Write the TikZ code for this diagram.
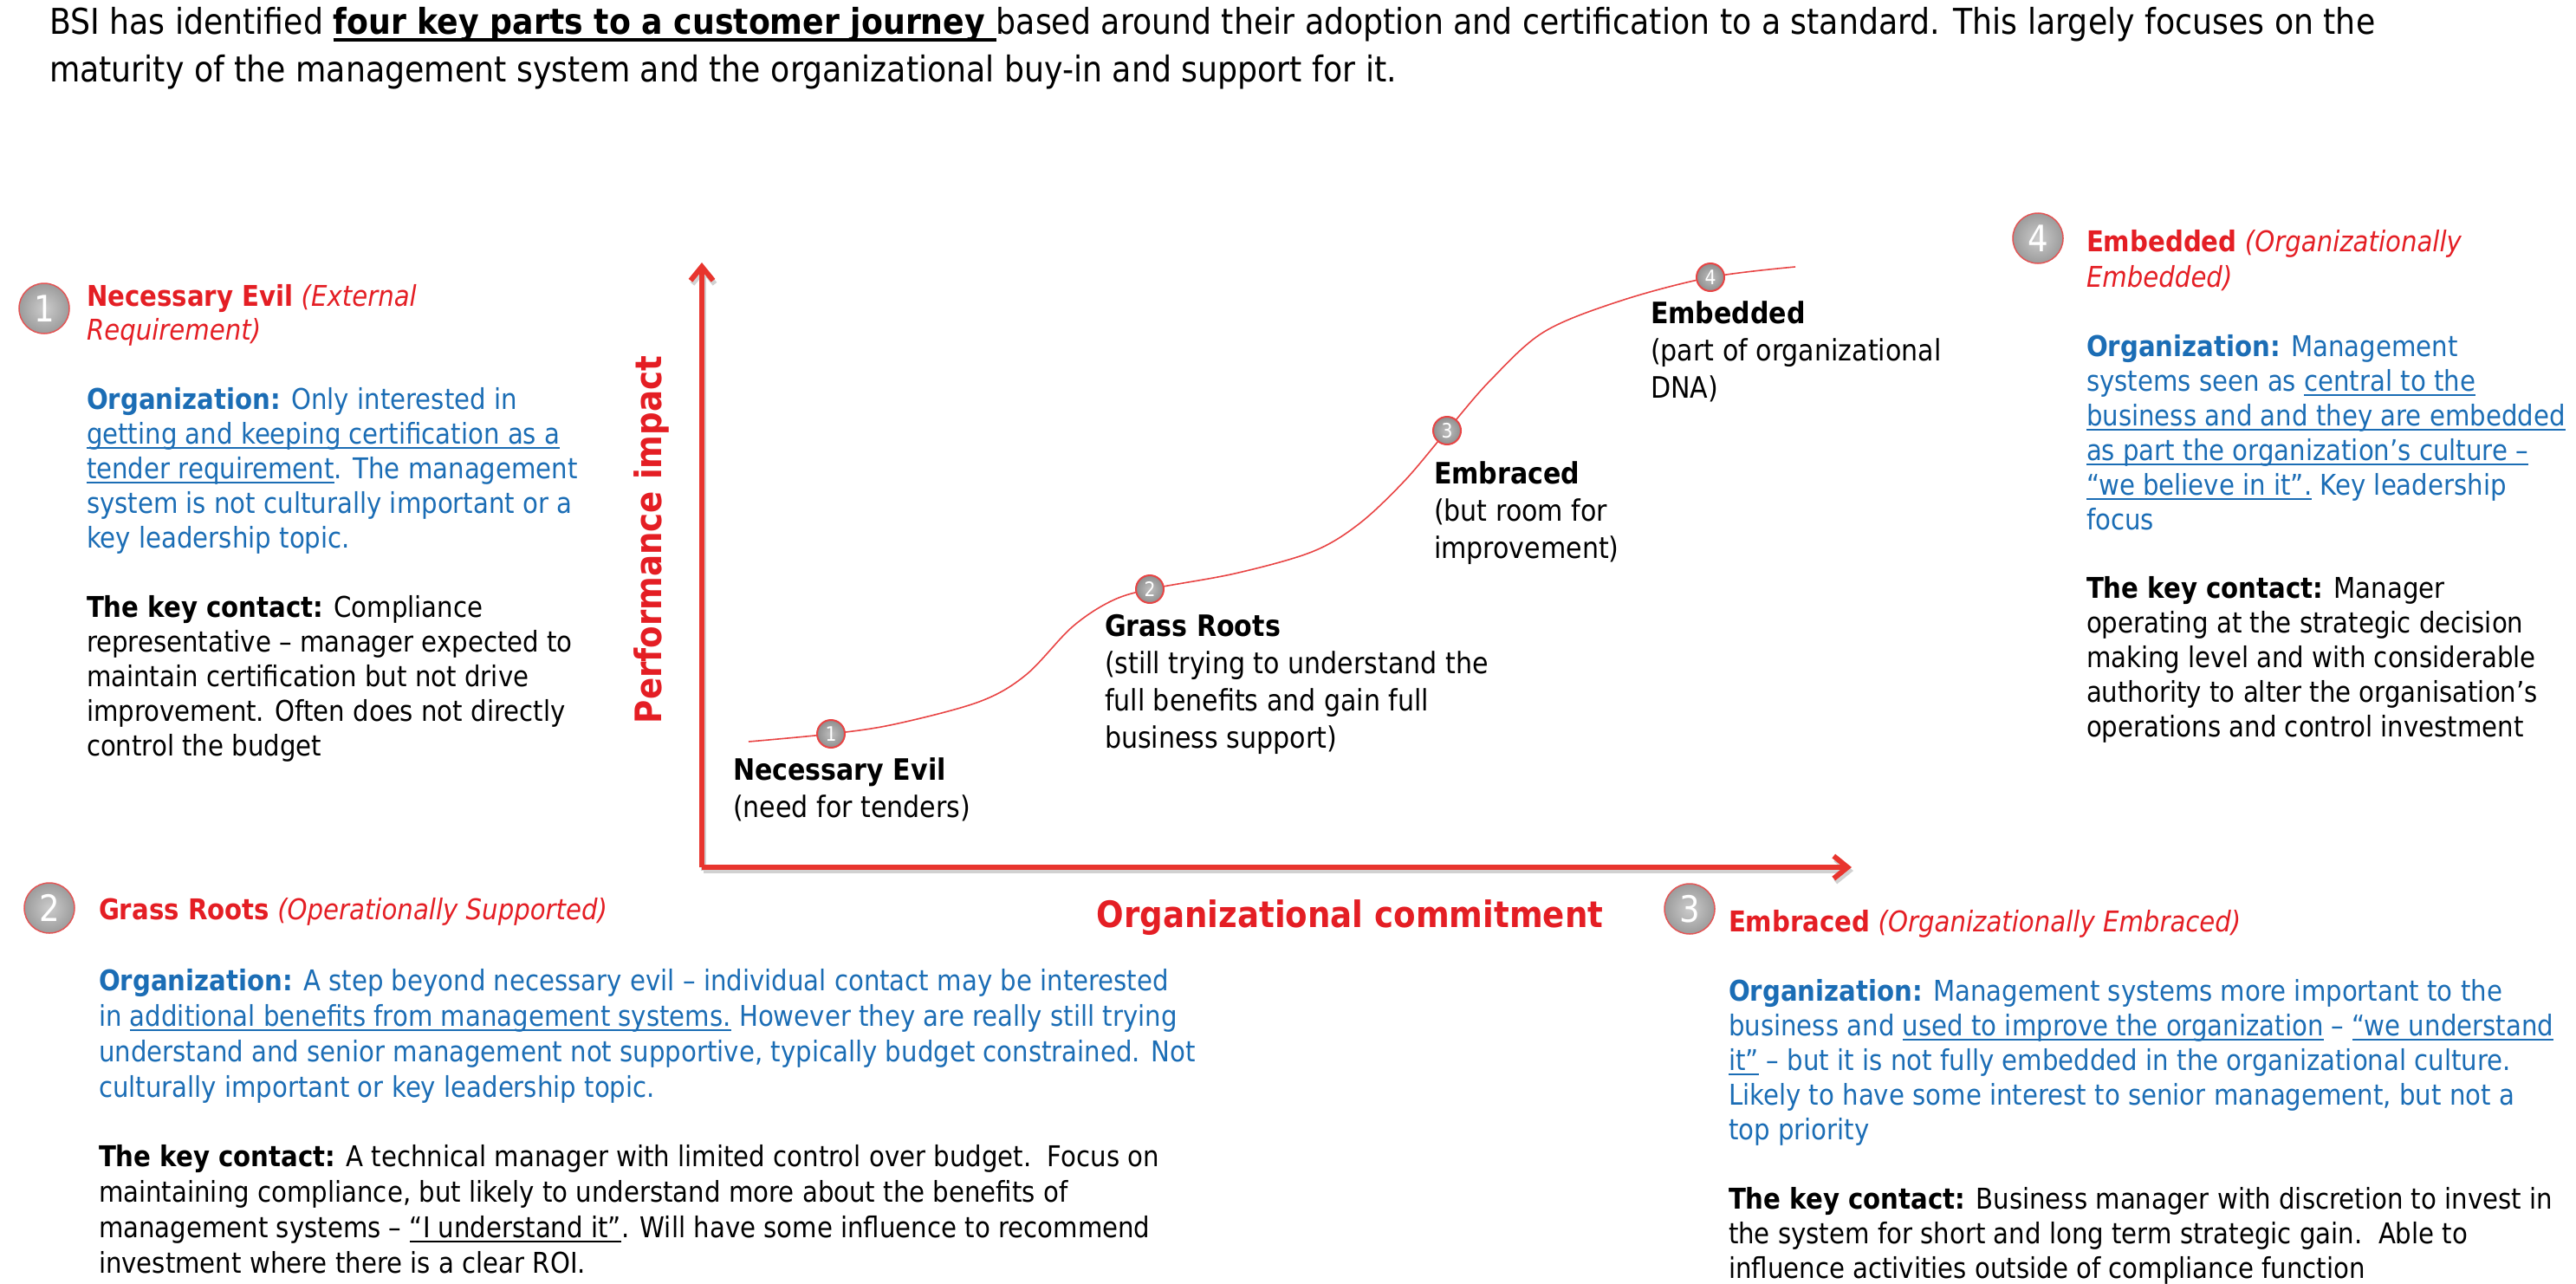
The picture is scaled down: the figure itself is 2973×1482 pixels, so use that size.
\documentclass[tikz,border=0pt]{standalone}
\usepackage{fontspec}
\setmainfont{DejaVu Sans}[FakeStretch=0.885, BoldFont={DejaVu Sans Bold}, ItalicFont={DejaVu Sans Oblique}, BoldItalicFont={DejaVu Sans Bold Oblique}]
\usetikzlibrary{arrows.meta,shadings}
\definecolor{tred}{HTML}{E41E24}
\definecolor{tblue}{HTML}{1B6DB5}
\definecolor{axred}{HTML}{E8352E}
\definecolor{curvered}{HTML}{E84444}
\definecolor{ballred}{HTML}{E25555}
\newcommand\ulx[1]{\setbox0=\hbox{#1}\rlap{\rule[-6pt]{\wd0}{2pt}}\box0\relax}
\newcommand\ulh[1]{\setbox0=\hbox{#1}\rlap{\rule[-8pt]{\wd0}{3.5pt}}\box0\relax}
\newcommand\vlines[2]{\vtop{\baselineskip=#1pt\lineskiplimit=-1000pt\lineskip=0pt\relax #2}}
\begin{document}
\begin{tikzpicture}[x=1pt,y=-1pt,
  txt/.style={anchor=base west, inner sep=0pt, outer sep=0pt},
  body/.style={txt, font=\fontsize{33}{40}\selectfont},
  org/.style={body, text=tblue},
  key/.style={body, text=black},
  ttl/.style={body, text=tred},
  lbl/.style={txt, text=black, font=\fontsize{34}{43}\selectfont},
  hdr/.style={txt, text=black, font=\fontsize{41}{55}\selectfont},
  axlbl/.style={anchor=base, inner sep=0pt, text=tred, font=\fontsize{42}{50}\selectfont\bfseries},
  bigball/.style={circle, minimum size=58pt, inner sep=0pt, draw=ballred, line width=1.5pt, inner color=gray!40, outer color=gray!78, text=white, font=\fontsize{42}{42}\selectfont},
  smallball/.style={circle, minimum size=32pt, inner sep=0pt, draw=curvered, line width=2pt, inner color=gray!50, outer color=gray!88, text=white, font=\fontsize{23}{23}\selectfont},
  axis/.style={draw=axred, line width=6pt, -{Straight Barb[length=16pt,width=26pt]},
    preaction={draw=black!18, line width=6pt, transform canvas={shift={(2pt,-4pt)}}}},
  curve/.style={draw=curvered, line width=1.6pt}
]
\useasboundingbox (0,0) rectangle (2973,1482);

% header
\node[hdr] (head) at (57,40) {\vlines{55}{%
\hbox{BSI has identified \ulh{\textbf{four key parts to a customer journey }}based around their adoption and certification to a standard. This largely focuses on the}%
\hbox{maturity of the management system and the organizational buy-in and support for it.}}};

% block 1
\node[bigball] (c1) at (51,356) {1};
\node[ttl] (t1) at (100,353) {\vlines{39}{%
\hbox{\textbf{Necessary Evil} \textit{(External}}%
\hbox{\textit{Requirement)}}}};
\node[org] (o1) at (100,472) {\vlines{40}{%
\hbox{\textbf{Organization:} Only interested in}%
\hbox{\ulx{getting and keeping certification as a}}%
\hbox{\ulx{tender requirement}. The management}%
\hbox{system is not culturally important or a}%
\hbox{key leadership topic.}}};
\node[key] (k1) at (100,712) {\vlines{40}{%
\hbox{\textbf{The key contact:} Compliance}%
\hbox{representative – manager expected to}%
\hbox{maintain certification but not drive}%
\hbox{improvement. Often does not directly}%
\hbox{control the budget}}};

% block 4
\node[bigball] (c4) at (2352,275) {4};
\node[ttl] (t4) at (2408,290) {\vlines{41}{%
\hbox{\textbf{Embedded} \textit{(Organizationally}}%
\hbox{\textit{Embedded)}}}};
\node[org] (o4) at (2408,411) {\vlines{40}{%
\hbox{\textbf{Organization:} Management}%
\hbox{systems seen as \ulx{central to the}}%
\hbox{\ulx{business and and they are embedded}}%
\hbox{\ulx{as part the organization’s culture –}}%
\hbox{\ulx{“we believe in it”.} Key leadership}%
\hbox{focus}}};
\node[key] (k4) at (2408,690) {\vlines{40}{%
\hbox{\textbf{The key contact:} Manager}%
\hbox{operating at the strategic decision}%
\hbox{making level and with considerable}%
\hbox{authority to alter the organisation’s}%
\hbox{operations and control investment}}};

% block 2
\node[bigball] (c2) at (57,1048) {2};
\node[ttl] (t2) at (114,1061) {\hbox{\textbf{Grass Roots} \textit{(Operationally Supported)}}};
\node[org] (o2) at (114,1143) {\vlines{41}{%
\hbox{\textbf{Organization:} A step beyond necessary evil – individual contact may be interested}%
\hbox{in \ulx{additional benefits from management systems.} However they are really still trying}%
\hbox{understand and senior management not supportive, typically budget constrained. Not}%
\hbox{culturally important or key leadership topic.}}};
\node[key] (k2) at (114,1346) {\vlines{41}{%
\hbox{\textbf{The key contact:} A technical manager with limited control over budget.\ \ Focus on}%
\hbox{maintaining compliance, but likely to understand more about the benefits of}%
\hbox{management systems – \ulx{“I understand it”}. Will have some influence to recommend}%
\hbox{investment where there is a clear ROI.}}};

% block 3
\node[bigball] (c3) at (1950,1049) {3};
\node[ttl] (t3) at (1995,1075) {\hbox{\textbf{Embraced} \textit{(Organizationally Embraced)}}};
\node[org] (o3) at (1995,1155) {\vlines{40}{%
\hbox{\textbf{Organization:} Management systems more important to the}%
\hbox{business and \ulx{used to improve the organization} – \ulx{“we understand}}%
\hbox{\ulx{it”} – but it is not fully embedded in the organizational culture.}%
\hbox{Likely to have some interest to senior management, but not a}%
\hbox{top priority}}};
\node[key] (k3) at (1995,1395) {\vlines{40}{%
\hbox{\textbf{The key contact:} Business manager with discretion to invest in}%
\hbox{the system for short and long term strategic gain.\ \ Able to}%
\hbox{influence activities outside of compliance function}}};

% chart axes
\coordinate (O) at (810,1001);
\coordinate (ytip) at (810,303);
\coordinate (xtip) at (2137,1001);
\draw[axis] (O) -- (ytip);
\draw[axis] (O) -- (xtip);
\node[axlbl] (xl) at (1558,1070) {Organizational commitment};
\node[axlbl, rotate=90] (yl) at (763,623) {Performance impact};

% curve
\coordinate (p1) at (959,847);
\coordinate (p2) at (1327,680);
\coordinate (p3) at (1670,497);
\coordinate (p4) at (1974,320);
\coordinate (cs) at (864,856);
\coordinate (ce) at (2072,308);
\draw[curve] plot[smooth, tension=0.55] coordinates {(cs) (p1) (1032,836) (1130,810) (1184,779) (1237,724) (1282,694) (p2) (1425,662) (1514,637) (1568,605) (1621,555) (p3) (1720,439) (1782,383) (1871,347) (p4) (ce)};
\node[smallball] (s1) at (p1) {1};
\node[smallball] (s2) at (p2) {2};
\node[smallball] (s3) at (p3) {3};
\node[smallball] (s4) at (p4) {4};

% curve labels
\node[lbl] (l1) at (846,900) {\vlines{43}{%
\hbox{\textbf{Necessary Evil}}%
\hbox{(need for tenders)}}};
\node[lbl] (l2) at (1275,734) {\vlines{43}{%
\hbox{\textbf{Grass Roots}}%
\hbox{(still trying to understand the}%
\hbox{full benefits and gain full}%
\hbox{business support)}}};
\node[lbl] (l3) at (1655,558) {\vlines{43}{%
\hbox{\textbf{Embraced}}%
\hbox{(but room for}%
\hbox{improvement)}}};
\node[lbl] (l4) at (1905,373) {\vlines{43}{%
\hbox{\textbf{Embedded}}%
\hbox{(part of organizational}%
\hbox{DNA)}}};
\end{tikzpicture}
\end{document}
